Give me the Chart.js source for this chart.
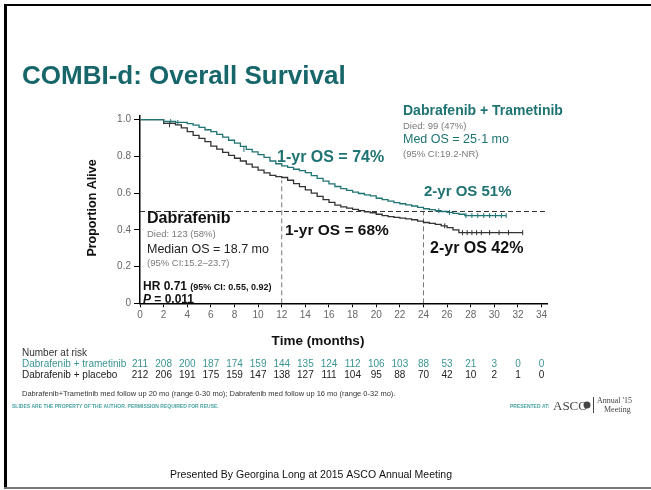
<!DOCTYPE html>
<html>
<head>
<meta charset="utf-8">
<script src="https://cdn.jsdelivr.net/npm/chart.js@4"></script>
<style>
  html, body { margin: 0; padding: 0; background: #fff; }
  #wrap { width: 651px; height: 490px; position: relative; }
</style>
</head>
<body>
<div id="wrap"><canvas id="osChart" width="651" height="490"></canvas></div>
<script>
// Kaplan-Meier curves (months, proportion alive)
const dtMonths = [0, 1.5, 2, 3, 4, 4.5, 5, 5.5, 6, 6.5, 7, 7.5, 8, 8.5, 9, 9.5, 10, 10.5, 11, 11.5, 12, 12.5, 13, 13.5, 14, 14.5, 15, 15.5, 16, 16.5, 17, 17.5, 18, 18.5, 19, 19.5, 20, 20.5, 21, 21.5, 22, 22.5, 23, 23.5, 24, 24.5, 25, 25.5, 26, 26.5, 27, 27.5, 31];
const dtSurv = [1, 1, 0.99, 0.985, 0.978, 0.97, 0.958, 0.945, 0.935, 0.92, 0.905, 0.888, 0.872, 0.855, 0.838, 0.825, 0.81, 0.795, 0.775, 0.76, 0.748, 0.74, 0.73, 0.722, 0.712, 0.695, 0.68, 0.665, 0.65, 0.636, 0.625, 0.615, 0.605, 0.598, 0.59, 0.585, 0.572, 0.565, 0.556, 0.548, 0.542, 0.536, 0.53, 0.522, 0.515, 0.51, 0.504, 0.5, 0.495, 0.49, 0.485, 0.478, 0.478];

const dMonths = [0, 1.8, 2, 3, 3.5, 4, 4.5, 5, 5.5, 6, 6.5, 7, 7.5, 8, 8.5, 9, 9.5, 10, 10.5, 11, 11.5, 12, 12.5, 13, 13.5, 14, 14.5, 15, 15.5, 16, 16.5, 17, 17.5, 18, 18.5, 19, 19.5, 20, 20.5, 21, 21.5, 22, 22.5, 23, 23.5, 24, 24.5, 25, 25.5, 26, 26.5, 27, 32.4];
const dSurv = [1, 1, 0.98, 0.972, 0.955, 0.935, 0.915, 0.898, 0.88, 0.856, 0.84, 0.822, 0.806, 0.79, 0.775, 0.758, 0.742, 0.725, 0.71, 0.697, 0.69, 0.685, 0.67, 0.652, 0.635, 0.618, 0.6, 0.582, 0.565, 0.55, 0.535, 0.525, 0.518, 0.512, 0.505, 0.498, 0.493, 0.485, 0.478, 0.472, 0.468, 0.464, 0.46, 0.455, 0.448, 0.44, 0.435, 0.43, 0.422, 0.412, 0.4, 0.385, 0.385];

// censored patients (tick marks)
const dtCensorMonths = [2.6, 3.2, 8.8, 25.3, 26.2, 27.6, 28.1, 28.6, 29.1, 29.6, 30.1, 30.6, 31];
const dtCensorSurv = [0.99, 0.985, 0.838, 0.504, 0.495, 0.478, 0.478, 0.478, 0.478, 0.478, 0.478, 0.478, 0.478];
const dCensorMonths = [2.5, 25.8, 27.3, 27.7, 28.1, 28.5, 28.9, 29.6, 30.4, 31.2, 32.4];
const dCensorSurv = [0.972, 0.422, 0.385, 0.385, 0.385, 0.385, 0.385, 0.385, 0.385, 0.385, 0.385];

// reference lines (median and landmark)
const medianLine = [{ x: 0, y: 0.5 }, { x: 34.4, y: 0.5 }];
const oneYearLine = [{ x: 12, y: 0 }, { x: 12, y: 0.67 }];
const twoYearLine = [{ x: 24, y: 0 }, { x: 24, y: 0.5 }];

// number at risk table
const riskMonths = [0, 2, 4, 6, 8, 10, 12, 14, 16, 18, 20, 22, 24, 26, 28, 30, 32, 34];
const riskDT = [211, 208, 200, 187, 174, 159, 144, 135, 124, 112, 106, 103, 88, 53, 21, 3, 0, 0];
const riskD = [212, 206, 191, 175, 159, 147, 138, 127, 111, 104, 95, 88, 70, 42, 10, 2, 1, 0];

const TEAL = "#1f7373";
const TEAL_DARK = "#17666a";
const FONT = "'Liberation Sans', Arial, sans-serif";

function toPoints(xs, ys) {
    return xs.map((x, i) => ({ x: x, y: ys[i] }));
}

// Draws the slide text, title, number at risk and frame
const slideText = {
    id: "slideText",
    afterDraw(chart) {
        const ctx = chart.ctx;
        const xs = chart.scales.x;
        ctx.save();

        // slide frame
        ctx.fillStyle = "#000";
        ctx.fillRect(4, 4, 647, 2);
        ctx.fillRect(4, 4, 3, 485);
        ctx.fillStyle = "#777";
        ctx.fillRect(4, 487, 647, 2);

        ctx.textBaseline = "alphabetic";
        ctx.textAlign = "left";

        // title
        ctx.fillStyle = TEAL_DARK;
        ctx.font = "bold 26px " + FONT;
        ctx.fillText("COMBI-d: Overall Survival", 22, 84);

        // combination arm box
        ctx.fillStyle = TEAL;
        ctx.font = "bold 14px " + FONT;
        ctx.fillText("Dabrafenib + Trametinib", 403, 115);
        ctx.fillStyle = "#7a7a7a";
        ctx.font = "9.5px " + FONT;
        ctx.fillText("Died: 99 (47%)", 403, 128.5);
        ctx.fillStyle = TEAL;
        ctx.font = "12.5px " + FONT;
        ctx.fillText("Med OS = 25\u00b71 mo", 403, 143);
        ctx.fillStyle = "#7a7a7a";
        ctx.font = "9.5px " + FONT;
        ctx.fillText("(95% CI:19.2-NR)", 403, 156.5);

        ctx.fillStyle = TEAL;
        ctx.font = "bold 16px " + FONT;
        ctx.fillText("1-yr OS = 74%", 277, 161.5);
        ctx.font = "bold 15px " + FONT;
        ctx.fillText("2-yr OS 51%", 424, 196);

        // monotherapy arm box
        ctx.fillStyle = "#111";
        ctx.font = "bold 16px " + FONT;
        ctx.fillText("Dabrafenib", 147, 223);
        ctx.font = "bold 15.5px " + FONT;
        ctx.fillText("1-yr OS = 68%", 285, 235);
        ctx.font = "bold 16px " + FONT;
        ctx.fillText("2-yr OS 42%", 430, 253);
        ctx.fillStyle = "#7a7a7a";
        ctx.font = "9.5px " + FONT;
        ctx.fillText("Died: 123 (58%)", 147, 236.5);
        ctx.fillStyle = "#222";
        ctx.font = "12.5px " + FONT;
        ctx.fillText("Median OS = 18.7 mo", 147, 253);
        ctx.fillStyle = "#7a7a7a";
        ctx.font = "9.5px " + FONT;
        ctx.fillText("(95% CI:15.2\u201323.7)", 147, 266);

        // hazard ratio
        ctx.fillStyle = "#111";
        ctx.font = "bold 12px " + FONT;
        ctx.fillText("HR 0.71", 143, 290);
        let w = ctx.measureText("HR 0.71 ").width;
        ctx.font = "bold 9px " + FONT;
        ctx.fillText("(95% CI: 0.55, 0.92)", 143 + w, 290);
        ctx.font = "italic bold 12px " + FONT;
        ctx.fillText("P", 143, 303);
        w = ctx.measureText("P").width;
        ctx.font = "bold 12px " + FONT;
        ctx.fillText(" = 0.011", 143 + w, 303);

        // axis titles
        ctx.fillStyle = "#111";
        ctx.font = "bold 13.5px " + FONT;
        ctx.textAlign = "center";
        ctx.fillText("Time (months)", 318, 345);
        ctx.save();
        ctx.translate(96, 208);
        ctx.rotate(-Math.PI / 2);
        ctx.font = "bold 12.5px " + FONT;
        ctx.fillText("Proportion Alive", 0, 0);
        ctx.restore();

        // number at risk
        ctx.textAlign = "left";
        ctx.font = "10px " + FONT;
        ctx.fillStyle = "#333";
        ctx.fillText("Number at risk", 22, 356);
        ctx.fillStyle = "#3a9494";
        ctx.fillText("Dabrafenib + trametinib", 22, 367);
        ctx.fillStyle = "#222";
        ctx.fillText("Dabrafenib + placebo", 22, 378);
        ctx.textAlign = "center";
        riskMonths.forEach((m, i) => {
            const px = xs.getPixelForValue(m);
            ctx.fillStyle = "#3a9494";
            ctx.fillText(String(riskDT[i]), px, 367);
            ctx.fillStyle = "#222";
            ctx.fillText(String(riskD[i]), px, 378);
        });

        // footnotes
        ctx.textAlign = "left";
        ctx.fillStyle = "#333";
        ctx.font = "7.5px " + FONT;
        ctx.fillText("Dabrafenib+Trametinib med follow up 20 mo (range 0-30 mo); Dabrafenib med follow up 16 mo (range 0-32 mo).", 22, 396);
        ctx.fillStyle = "#4aa3a3";
        ctx.font = "bold 5px " + FONT;
        ctx.fillText("SLIDES ARE THE PROPERTY OF THE AUTHOR. PERMISSION REQUIRED FOR REUSE.", 12, 408);
        ctx.fillText("PRESENTED AT:", 510, 408);

        // ASCO mark
        ctx.fillStyle = "#444";
        ctx.font = "13px 'Liberation Serif', serif";
        ctx.fillText("ASCO", 553, 410);
        ctx.beginPath();
        ctx.arc(587, 405, 3.5, 0, Math.PI * 2);
        ctx.fill();
        ctx.fillRect(593, 397, 1, 16);
        ctx.font = "8px 'Liberation Serif', serif";
        ctx.fillText("Annual '15", 597, 403);
        ctx.fillText("Meeting", 604, 412);

        ctx.fillStyle = "#111";
        ctx.font = "10.5px " + FONT;
        ctx.textAlign = "center";
        ctx.fillText("Presented By Georgina Long at 2015 ASCO Annual Meeting", 311, 478);
        ctx.restore();
    },
};

const ctx = document.getElementById("osChart").getContext("2d");

const chart = new Chart(ctx, {
    type: "line",
    data: {
        datasets: [
            {
                label: "Dabrafenib + Trametinib",
                data: toPoints(dtMonths, dtSurv),
                borderColor: TEAL,
                borderWidth: 1.3,
                stepped: true,
                pointRadius: 0,
            },
            {
                label: "Dabrafenib",
                data: toPoints(dMonths, dSurv),
                borderColor: "#333",
                borderWidth: 1.3,
                stepped: true,
                pointRadius: 0,
            },
            {
                label: "censor DT",
                data: toPoints(dtCensorMonths, dtCensorSurv),
                showLine: false,
                pointStyle: "line",
                rotation: 90,
                pointRadius: 2.5,
                borderColor: TEAL,
                borderWidth: 1,
            },
            {
                label: "censor D",
                data: toPoints(dCensorMonths, dCensorSurv),
                showLine: false,
                pointStyle: "line",
                rotation: 90,
                pointRadius: 2.5,
                borderColor: "#333",
                borderWidth: 1,
            },
            {
                label: "median",
                data: medianLine,
                borderColor: "#333",
                borderWidth: 1,
                borderDash: [5, 3],
                pointRadius: 0,
            },
            {
                label: "1 yr",
                data: oneYearLine,
                borderColor: "#777",
                borderWidth: 1,
                borderDash: [5, 3],
                pointRadius: 0,
            },
            {
                label: "2 yr",
                data: twoYearLine,
                borderColor: "#777",
                borderWidth: 1,
                borderDash: [5, 3],
                pointRadius: 0,
            },
        ],
    },
    options: {
        responsive: false,
        animation: false,
        layout: {
            padding: { left: 100, top: 116, right: 103.5, bottom: 156.7 },
        },
        scales: {
            x: {
                type: "linear",
                min: 0,
                max: 34.5,
                afterFit: (scale) => { scale.height = 30; },
                afterBuildTicks: (scale) => {
                    scale.ticks = riskMonths.map((m) => ({ value: m }));
                },
                grid: {
                    drawOnChartArea: false,
                    drawTicks: true,
                    tickLength: 4,
                    color: "#000",
                },
                border: { color: "#000", width: 1.5 },
                ticks: {
                    color: "#666",
                    font: { family: FONT, size: 10 },
                    padding: 2,
                    maxRotation: 0,
                    autoSkip: false,
                },
            },
            y: {
                min: 0,
                max: 1.02,
                afterFit: (scale) => { scale.width = 40; },
                afterBuildTicks: (scale) => {
                    scale.ticks = [0, 0.2, 0.4, 0.6, 0.8, 1.0].map((v) => ({ value: v }));
                },
                grid: {
                    drawOnChartArea: false,
                    tickLength: 6,
                    color: "#000",
                },
                border: { color: "#000", width: 1.5 },
                ticks: {
                    color: "#666",
                    font: { family: FONT, size: 10 },
                    padding: 3,
                    callback: (v) => (v === 0 ? "0" : v.toFixed(1)),
                },
            },
        },
        plugins: {
            legend: { display: false },
            tooltip: { enabled: false },
        },
    },
    plugins: [slideText],
});
</script>
</body>
</html>
